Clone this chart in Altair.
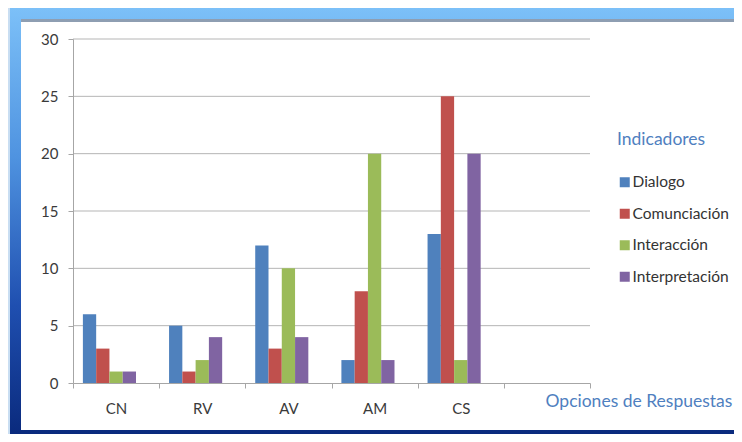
import altair as alt
import pandas as pd

categories = ["CN", "RV", "AV", "AM", "CS"]
series = ["Dialogo", "Comunciación", "Interacción", "Interpretación"]
dialogo = [6, 5, 12, 2, 13]
comunicacion = [3, 1, 3, 8, 25]
interaccion = [1, 2, 10, 20, 2]
interpretacion = [1, 4, 4, 2, 20]
y_ticks = [0, 5, 10, 15, 20, 25, 30]
colors = ["#4f81bd", "#c0504d", "#9bbb59", "#8064a2"]

values_by_series = [dialogo, comunicacion, interaccion, interpretacion]
rows = []
for s, vals in zip(series, values_by_series):
    for c, v in zip(categories, vals):
        rows.append({"cat": c, "series": s, "value": v})
df = pd.DataFrame(rows)
x_domain = categories + [" "]
offset_domain = series + ["~"]  # unused 5th slot, as in the original layout

FONT = "Lato"
W, H = 517, 344

y_enc = alt.Y(
    "value:Q",
    scale=alt.Scale(domain=[0, 30], nice=False),
    axis=alt.Axis(
        values=y_ticks, title=None, grid=False, domainColor="#a6a6a6",
        tickColor="#a6a6a6", tickSize=5, labelPadding=10, labelFontSize=15,
        labelFont=FONT, labelColor="#3a3a3a", zindex=1,
    ),
)

one = pd.DataFrame({"k": [0]})
frame_grad = alt.LinearGradient(
    gradient="linear",
    stops=[
        alt.GradientStop(offset=0, color="#7cc0f8"),
        alt.GradientStop(offset=0.35, color="#4f93e0"),
        alt.GradientStop(offset=0.7, color="#1f4fb0"),
        alt.GradientStop(offset=1, color="#0a2a7d"),
    ],
    x1=0, x2=0, y1=0, y2=1,
)
frame = alt.Chart(one).mark_rect(fill=frame_grad).encode(
    x=alt.value(-63), x2=alt.value(700), y=alt.value(-31), y2=alt.value(395)
)
topline = alt.Chart(one).mark_rect(fill="#8e9eb2").encode(
    x=alt.value(-52), x2=alt.value(700), y=alt.value(-20), y2=alt.value(-17)
)
panel = alt.Chart(one).mark_rect(fill="#ffffff").encode(
    x=alt.value(-52), x2=alt.value(700), y=alt.value(-17), y2=alt.value(391)
)

grid = alt.Chart(pd.DataFrame({"value": y_ticks[1:]})).mark_rule(
    color="#b5b5b5", strokeWidth=1
).encode(y=y_enc, x=alt.value(0), x2=alt.value(W))

bars = alt.Chart(df).mark_bar().encode(
    x=alt.X(
        "cat:N",
        sort=x_domain,
        scale=alt.Scale(domain=x_domain, paddingInner=0, paddingOuter=0),
        axis=alt.Axis(
            title="Opciones de Respuestas", labelAngle=0, tickBand="extent",
            grid=False, domainColor="#a6a6a6", tickColor="#a6a6a6", tickSize=5,
            labelPadding=13, labelFontSize=15, labelFont=FONT,
            labelColor="#3a3a3a", titleFont=FONT, titleFontSize=17.5,
            titleColor="#4f7fc0", titleFontWeight="normal", titleAlign="left",
            titleX=472, titleY=18, titleBaseline="middle", zindex=1,
        ),
    ),
    xOffset=alt.XOffset(
        "series:N",
        scale=alt.Scale(domain=offset_domain, paddingInner=0, paddingOuter=0.745),
    ),
    y=y_enc,
    color=alt.Color(
        "series:N",
        sort=series,
        scale=alt.Scale(domain=series, range=colors),
        legend=alt.Legend(
            title="Indicadores", orient="none", legendX=544, legendY=92,
            titleColor="#4f7fc0", titleFontSize=17.5, titleFontWeight="normal",
            titleFont=FONT, titlePadding=26, labelFont=FONT, labelFontSize=15.5,
            labelColor="#333333", symbolType="square", symbolSize=100,
            symbolStrokeWidth=0, rowPadding=14.5, padding=0, labelOffset=0,
            zindex=1,
        ),
    ),
)

chart = alt.layer(frame, topline, panel, grid, bars).properties(
    width=W,
    height=H,
    padding={"left": 65, "top": 31, "right": 144, "bottom": 51},
    autosize=alt.AutoSizeParams(type="none"),
    background="#c9def2",
).configure_view(stroke=None)

chart.save("out.html", embed_options={"renderer": "svg", "actions": False})
